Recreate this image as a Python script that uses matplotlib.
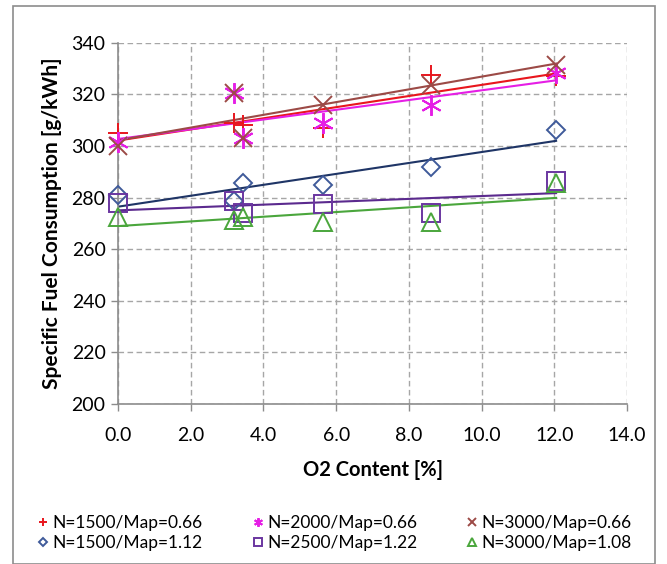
import numpy as np
import matplotlib.pyplot as plt
from matplotlib.patches import Rectangle

plt.rcParams['font.family'] = ['Lato', 'DejaVu Sans']

# O2 content [%] for each series
x_red = [0.0, 3.2, 3.45, 5.65, 8.6, 12.05]
x_mag = [0.0, 3.2, 3.45, 5.65, 8.6, 12.05]
x_brn = [0.0, 3.2, 3.45, 5.65, 8.6, 12.05]
x_dia = [0.0, 3.2, 3.45, 5.65, 8.6, 12.05]
x_sq = [0.0, 3.2, 3.45, 5.65, 8.6, 12.05]
x_tri = [0.0, 3.2, 3.45, 5.65, 8.6, 12.05]

# specific fuel consumption [g/kWh]
y_red = [305.0, 309.0, 308.2, 307.0, 327.6, 327.0]
y_mag = [301.7, 320.7, 303.0, 308.8, 315.9, 328.4]
y_brn = [300.0, 320.7, 303.0, 315.9, 323.7, 331.3]
y_dia = [281.0, 278.7, 285.8, 284.9, 292.0, 306.2]
y_sq = [277.8, 278.7, 274.0, 277.5, 273.9, 286.6]
y_tri = [272.6, 271.3, 272.4, 270.7, 270.7, 285.8]

labels = ["N=1500/Map=0.66", "N=2000/Map=0.66", "N=3000/Map=0.66",
          "N=1500/Map=1.12", "N=2500/Map=1.22", "N=3000/Map=1.08"]

fig = plt.figure(figsize=(6.67, 5.64), dpi=100)
ax = fig.add_axes([0.177, 0.284, 0.763, 0.640])

# outer chart border
fig.patches.append(Rectangle((13 / 667, 0.0), 642 / 667, 558 / 564,
                             transform=fig.transFigure, fill=False,
                             edgecolor='#8c8c8c', linewidth=1.2))

series = [
    (x_red, y_red, '+', '#e8161d', '#e8161d', 15, labels[0]),
    (x_mag, y_mag, (6, 2, 0), '#e51ee5', '#e51ee5', 15, labels[1]),
    (x_brn, y_brn, 'x', '#9c4a46', '#9c4a46', 13, labels[2]),
    (x_dia, y_dia, 'D', '#3f5a9a', '#1f3566', 9.5, labels[3]),
    (x_sq, y_sq, 's', '#6a36a0', '#5b2a8e', 13, labels[4]),
    (x_tri, y_tri, '^', '#4aa63c', '#4aa63c', 13, labels[5]),
]

handles = []
for xs, ys, mk, mcol, lcol, ms, lab in series:
    # linear trend line, as in the spreadsheet
    k, b = np.polyfit(xs, ys, 1)
    xx = np.array([min(xs), max(xs)])
    ax.plot(xx, k * xx + b, color=lcol, linewidth=1.5, zorder=2)
    h, = ax.plot(xs, ys, linestyle='none', marker=mk, markersize=ms,
                 markerfacecolor='none', markeredgecolor=mcol, markeredgewidth=1.4,
                 label=lab, zorder=3, clip_on=False)
    handles.append(h)

ax.set_xlim(0, 14)
ax.set_ylim(200, 340)
ax.set_xticks(np.arange(0, 14.1, 2))
ax.set_xticklabels([f"{v:.1f}" for v in np.arange(0, 14.1, 2)])
ax.set_yticks(np.arange(200, 341, 20))

ax.grid(True, linestyle=(0, (4, 2.5)), color='#a6a6a6', linewidth=1.0)
ax.set_axisbelow(True)
for s in ['top', 'right']:
    ax.spines[s].set_visible(False)
for s in ['left', 'bottom']:
    ax.spines[s].set_color('#8c8c8c')
    ax.spines[s].set_linewidth(1.2)
ax.tick_params(axis='both', colors='#8c8c8c', length=5, width=1.0,
               labelsize=14, labelcolor='black')
ax.tick_params(axis='x', pad=12)
ax.tick_params(axis='y', pad=4)

ax.set_xlabel("O2 Content [%]", fontsize=14.5, fontweight='bold', labelpad=11)
ax.set_ylabel("Specific Fuel Consumption [g/kWh]", fontsize=15, fontweight='bold', labelpad=7)

order = [0, 3, 1, 4, 2, 5]
leg = fig.legend([handles[i] for i in order], [labels[i] for i in order],
                 ncol=3, loc='upper left', bbox_to_anchor=(0.035, 0.115),
                 frameon=False, fontsize=12.5, handlelength=0.5, handletextpad=0.3,
                 columnspacing=2.9, labelspacing=0.25, markerscale=0.42)

fig.savefig("out.png", dpi=100)
